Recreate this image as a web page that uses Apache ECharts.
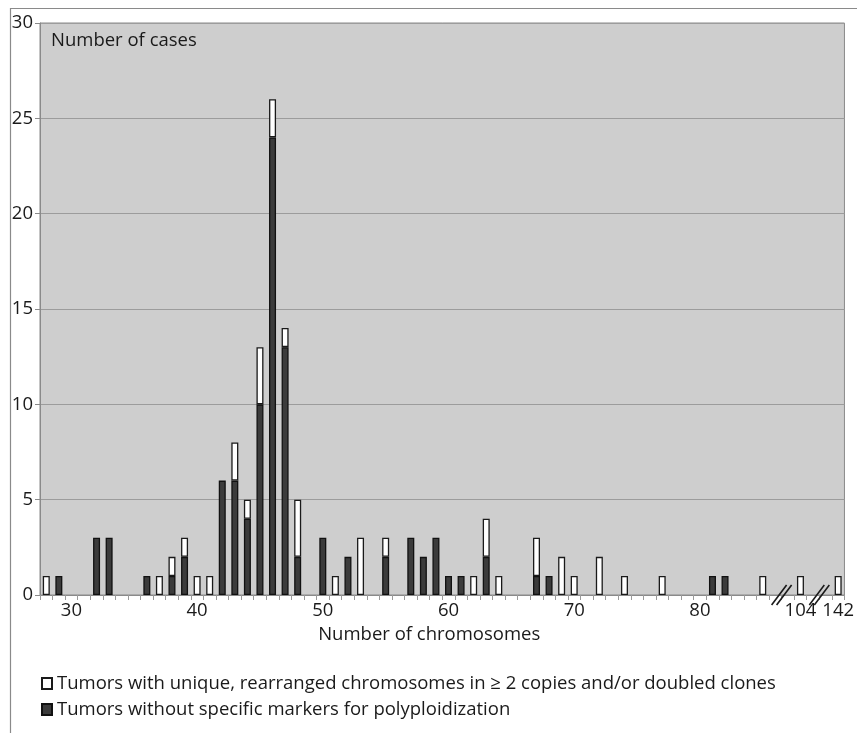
<!DOCTYPE html>
<html>
<head>
<meta charset="utf-8">
<script src="https://cdn.jsdelivr.net/npm/echarts@6/dist/echarts.min.js"></script>
<style>
html,body{margin:0;padding:0;background:#fff;}
#chart{width:857px;height:733px;}
</style>
</head>
<body>
<div id="chart"></div>
<script>
// Categories: chromosome numbers 28..85, then two axis breaks, 104, two breaks, 142
const categories = [
  "28","29","30","31","32","33","34","35","36","37",
  "38","39","40","41","42","43","44","45","46","47",
  "48","49","50","51","52","53","54","55","56","57",
  "58","59","60","61","62","63","64","65","66","67",
  "68","69","70","71","72","73","74","75","76","77",
  "78","79","80","81","82","83","84","85",
  "break1","break2","104","break3","break4","142"
];
// Tumors without specific markers for polyploidization (dark)
const darkValues = [
  0,1,0,0,3,3,0,0,1,0,
  1,2,0,0,6,6,4,10,24,13,
  2,0,3,0,2,0,0,2,0,3,
  2,3,1,1,0,2,0,0,0,1,
  1,0,0,0,0,0,0,0,0,0,
  0,0,0,1,1,0,0,0,
  0,0,0,0,0,0
];
// Tumors with unique, rearranged chromosomes in >= 2 copies and/or doubled clones (white)
const whiteValues = [
  1,0,0,0,0,0,0,0,0,1,
  1,1,1,1,0,2,1,3,2,1,
  3,0,0,1,0,3,0,1,0,0,
  0,0,0,0,1,2,1,0,0,2,
  0,2,1,0,2,0,1,0,0,1,
  0,0,0,0,0,0,0,1,
  0,0,1,0,0,1
];
const xTickLabels = ["30","40","50","60","70","80","104","142"];
const breakPairs = [["break1","break2"],["break3","break4"]];
const yTicks = {min:0, max:30, interval:5};

const seriesWhiteName = "Tumors with unique, rearranged chromosomes in \u2265 2 copies and/or doubled clones";
const seriesDarkName = "Tumors without specific markers for polyploidization";
const FONT = "Open Sans";
const FS = 18.5;

const chart = echarts.init(document.getElementById('chart'), null, {renderer:'canvas'});
const nz = v => v === 0 ? null : v;

const option = {
  animation:false,
  backgroundColor:'#ffffff',
  textStyle:{fontFamily:FONT},
  grid:{left:40, right:8, top:23, bottom:138, show:true, backgroundColor:'#cecece', borderColor:'#8a8a8a', borderWidth:1},
  legend:{
    orient:'vertical', left:41, top:674, padding:0, itemWidth:10, itemHeight:11, itemGap:7,
    icon:'rect',
    data:[seriesWhiteName, seriesDarkName],
    textStyle:{fontFamily:FONT, fontSize:FS, color:'#1a1a1a'},
    selectedMode:false
  },
  xAxis:{
    type:'category', data:categories,
    name:'Number of chromosomes', nameLocation:'middle', nameGap:29,
    nameTextStyle:{fontFamily:FONT, fontSize:FS, color:'#1a1a1a', padding:[0,26,0,0]},
    axisLine:{lineStyle:{color:'#8a8a8a', width:1}},
    axisTick:{show:true, interval:0, length:5, alignWithLabel:false, lineStyle:{color:'#9a9a9a'}},
    axisLabel:{interval:0, margin:6, fontFamily:FONT, fontSize:FS, color:'#1a1a1a',
      formatter: v => xTickLabels.indexOf(v) >= 0 ? v : ''},
    splitLine:{show:false}
  },
  yAxis:{
    type:'value', min:yTicks.min, max:yTicks.max, interval:yTicks.interval,
    axisLine:{show:true, lineStyle:{color:'#8a8a8a'}},
    axisTick:{show:true, length:5, lineStyle:{color:'#8a8a8a'}},
    axisLabel:{margin:7, fontFamily:FONT, fontSize:FS, color:'#1a1a1a'},
    splitLine:{show:true, lineStyle:{color:'#9c9c9c', width:1.2}}
  },
  series:[
    {name:seriesDarkName, type:'bar', stack:'cases', barWidth:7,
      data:darkValues.map(nz),
      itemStyle:{color:'#3b3b3b', borderColor:'#111', borderWidth:1.3}},
    {name:seriesWhiteName, type:'bar', stack:'cases', barWidth:7,
      data:whiteValues.map(nz),
      itemStyle:{color:'#ffffff', borderColor:'#1a1a1a', borderWidth:1.3}}
  ],
  graphic:[
    {type:'rect', left:8, top:6, silent:true, z:-10,
      shape:{width:870, height:760}, style:{fill:null, stroke:'#8a8a8a', lineWidth:1.2}},
    {type:'text', left:51, top:31, silent:true,
      style:{text:'Number of cases', font:FS + 'px ' + FONT, fill:'#1a1a1a'}}
  ]
};
chart.setOption(option);

// axis-break slashes, positioned from the category scale
const y0 = chart.convertToPixel({yAxisIndex:0}, 0);
const extra = [];
breakPairs.forEach(pair => {
  const xa = chart.convertToPixel({xAxisIndex:0}, pair[0]);
  const xb = chart.convertToPixel({xAxisIndex:0}, pair[1]);
  const cx = (xa + xb) / 2;
  [-2.5, 2.5].forEach(off => {
    extra.push({type:'line', silent:true, z:100,
      shape:{x1:cx + off - 7.5, y1:y0 + 10, x2:cx + off + 7.5, y2:y0 - 10},
      style:{stroke:'#1a1a1a', lineWidth:1.6}});
  });
});
chart.setOption({graphic: option.graphic.concat(extra)});
</script>
</body>
</html>
